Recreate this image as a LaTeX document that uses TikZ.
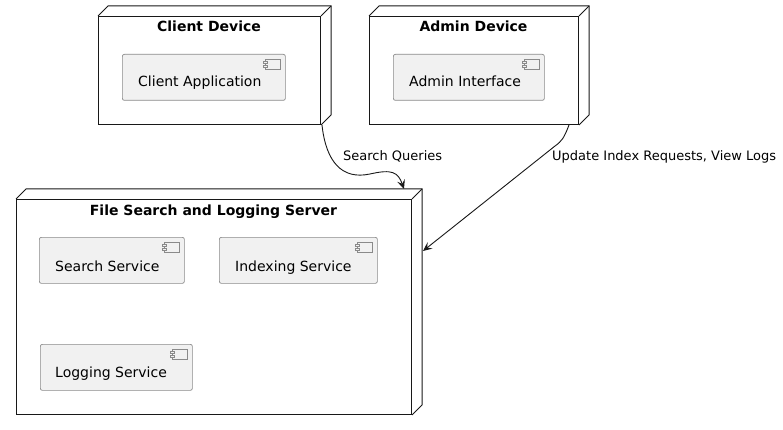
\documentclass[tikz,border=0pt]{standalone}
\usepackage{fontspec}
\setmainfont{DejaVu Sans}
\usetikzlibrary{arrows.meta}
\definecolor{compfill}{HTML}{F1F1F1}
\definecolor{compline}{HTML}{8A8A8A}
\definecolor{ink}{HTML}{181818}
\tikzset{
  devbox/.style={draw=ink, line width=1pt, fill=white, rectangle, inner sep=0pt, anchor=north west},
  devtitle/.style={font=\fontsize{14}{16}\selectfont\bfseries, anchor=base, inner sep=0pt},
  compbox/.style={draw=compline, line width=0.7pt, fill=compfill, rounded corners=2pt, rectangle, inner sep=0pt, anchor=north west},
  comptext/.style={font=\fontsize{14}{16}\selectfont, anchor=base west, inner sep=0pt},
  lbl/.style={font=\fontsize{13}{15}\selectfont, anchor=base west, inner sep=0pt},
  conn/.style={draw=ink, line width=0.9pt, -{Stealth[length=9pt,width=8pt,inset=3.5pt]}},
}
\newcommand\threed[1]{%
  \draw[ink, line width=1pt] (#1.north west) -- ++(10,-10) -- ([shift={(10,-10)}]#1.north east) -- ([shift={(10,-10)}]#1.south east) -- (#1.south east);
  \draw[ink, line width=1pt] (#1.north east) -- ++(10,-10);
}
\newcommand\compicon[1]{%
  \draw[compline, line width=0.6pt, fill=compfill] ([shift={(-20,5)}]#1.north east) rectangle ++(15,10);
  \draw[compline, line width=0.6pt, fill=compfill] ([shift={(-22,7)}]#1.north east) rectangle ++(4,2);
  \draw[compline, line width=0.6pt, fill=compfill] ([shift={(-22,11)}]#1.north east) rectangle ++(4,2);
}
\begin{document}
\begin{tikzpicture}[x=1pt,y=-1pt]
\useasboundingbox[fill=white] (0,0) rectangle (783,430);
% Client Device
\node[devbox, minimum width=222pt, minimum height=108pt] (client) at (98,16) {};
\threed{client}
\node[devtitle] (clientT) at (209,32) {Client Device};
\node[compbox, minimum width=163pt, minimum height=46pt] (capp) at (122,54) {};
\compicon{capp}
\node[comptext] (cappT) at (138,87) {Client Application};
% Admin Device
\node[devbox, minimum width=209pt, minimum height=108pt] (admin) at (369,16) {};
\threed{admin}
\node[devtitle] (adminT) at (473.5,32) {Admin Device};
\node[compbox, minimum width=151pt, minimum height=46pt] (aint) at (393,54) {};
\compicon{aint}
\node[comptext] (aintT) at (409,87) {Admin Interface};
% Server
\node[devbox, minimum width=395pt, minimum height=215pt] (server) at (16,199) {};
\threed{server}
\node[devtitle] (serverT) at (213.5,215) {File Search and Logging Server};
\node[compbox, minimum width=145pt, minimum height=46pt] (search) at (39,237) {};
\compicon{search}
\node[comptext] (searchT) at (55,271) {Search Service};
\node[compbox, minimum width=158pt, minimum height=46pt] (index) at (219,237) {};
\compicon{index}
\node[comptext] (indexT) at (235,271) {Indexing Service};
\node[compbox, minimum width=152pt, minimum height=46pt] (logging) at (40,344) {};
\compicon{logging}
\node[comptext] (loggingT) at (55,377) {Logging Service};
% connectors
\draw[conn] ([shift={(1,0)}]client.south east) .. controls (326,162) and (342,180) .. (370,174) .. controls (392,169) and (398,172) .. ([shift={(-8,-10)}]server.north east);
\draw[conn] ([shift={(-10,0)}]admin.south east) .. controls (564,138) and (562,141) .. (555,146) -- ([shift={(11,52)}]server.north east);
\node[lbl] (sq) at (343,161) {Search Queries};
\node[lbl] (ui) at (552,161) {Update Index Requests, View Logs};
\end{tikzpicture}
\end{document}
